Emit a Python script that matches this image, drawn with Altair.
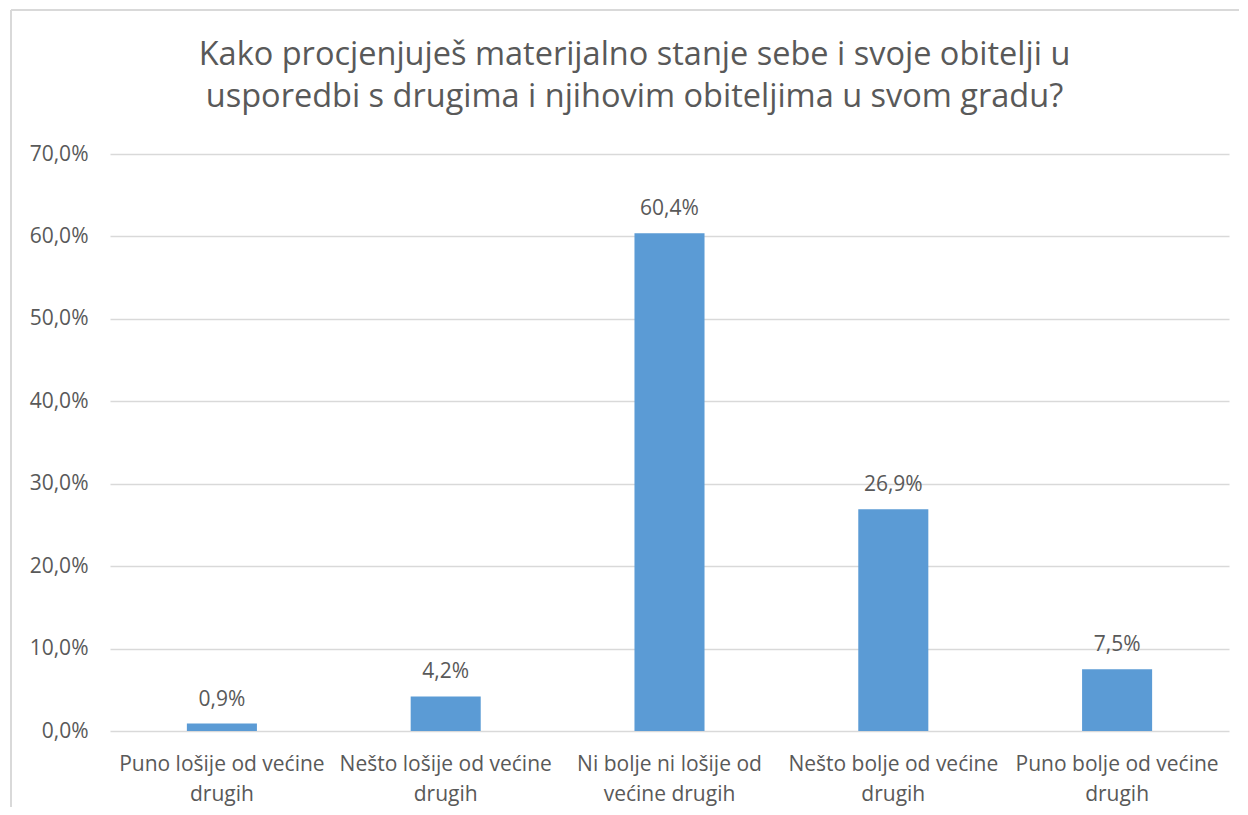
import altair as alt
import pandas as pd

categories = [
    "Puno lošije od većine|drugih",
    "Nešto lošije od većine|drugih",
    "Ni bolje ni lošije od|većine drugih",
    "Nešto bolje od većine|drugih",
    "Puno bolje od većine|drugih",
]
values = [0.009, 0.042, 0.604, 0.269, 0.075]
title_lines = [
    "Kako procjenjuješ materijalno stanje sebe i svoje obitelji u",
    "usporedbi s drugima i njihovim obiteljima u svom gradu?",
]
y_ticks = [0, 0.1, 0.2, 0.3, 0.4, 0.5, 0.6, 0.7]

df = pd.DataFrame({"cat": categories, "val": values})

FONT = "Open Sans"
TXT = "#595959"
GRID = "#D9D9D9"
FS = 21

x_enc = alt.X(
    "cat:N",
    sort=categories,
    scale=alt.Scale(paddingInner=0.687, paddingOuter=0.3435),
    axis=alt.Axis(
        title=None,
        labelAngle=0,
        labelExpr="split(datum.value, '|')",
        labelFont=FONT,
        labelFontSize=FS,
        labelColor=TXT,
        labelLineHeight=30,
        labelPadding=22,
        labelLimit=0,
        domain=False,
        ticks=False,
        grid=False,
    ),
)
y_enc = alt.Y(
    "val:Q",
    scale=alt.Scale(domain=[0, 0.7], nice=False),
    axis=alt.Axis(
        title=None,
        values=y_ticks,
        labelExpr="replace(format(datum.value, '.1%'), '.', ',')",
        labelFont=FONT,
        labelFontSize=FS,
        labelColor=TXT,
        labelPadding=22,
        domain=False,
        ticks=False,
        grid=True,
        gridColor=GRID,
        gridWidth=1.5,
    ),
)

base = alt.Chart(df)
bars = base.mark_bar(color="#5B9BD5").encode(x=x_enc, y=y_enc)
labels = base.transform_calculate(
    lbl="replace(format(datum.val, '.1%'), '.', ',')"
).mark_text(
    font=FONT, fontSize=FS, color=TXT, baseline="alphabetic", dy=-18
).encode(x=alt.X("cat:N", sort=categories), y="val:Q", text="lbl:N")

frame_df = pd.DataFrame({"k": [0]})
top_border = alt.Chart(frame_df).mark_rule(color=GRID, strokeWidth=2, clip=False).encode(
    x=alt.value(-99), x2=alt.value(1140), y=alt.value(-144)
)
left_border = alt.Chart(frame_df).mark_rule(color=GRID, strokeWidth=2, clip=False).encode(
    x=alt.value(-99), y=alt.value(-144), y2=alt.value(680)
)

chart = (
    alt.layer(bars, labels, top_border, left_border)
    .properties(
        width=1119,
        height=577,
        background="white",
        padding={"left": 102, "top": 146, "right": 10, "bottom": 76},
        autosize=alt.AutoSizeParams(type="none"),
        title=alt.TitleParams(
            text=title_lines,
            font=FONT,
            fontSize=32.5,
            fontWeight="normal",
            color=TXT,
            anchor="middle",
            baseline="bottom",
            lineHeight=42,
            dx=-35,
            offset=-137,
        ),
    )
    .configure_view(stroke=None, strokeWidth=0)
)

chart.save("out.html", embed_options={"renderer": "svg", "actions": False})
